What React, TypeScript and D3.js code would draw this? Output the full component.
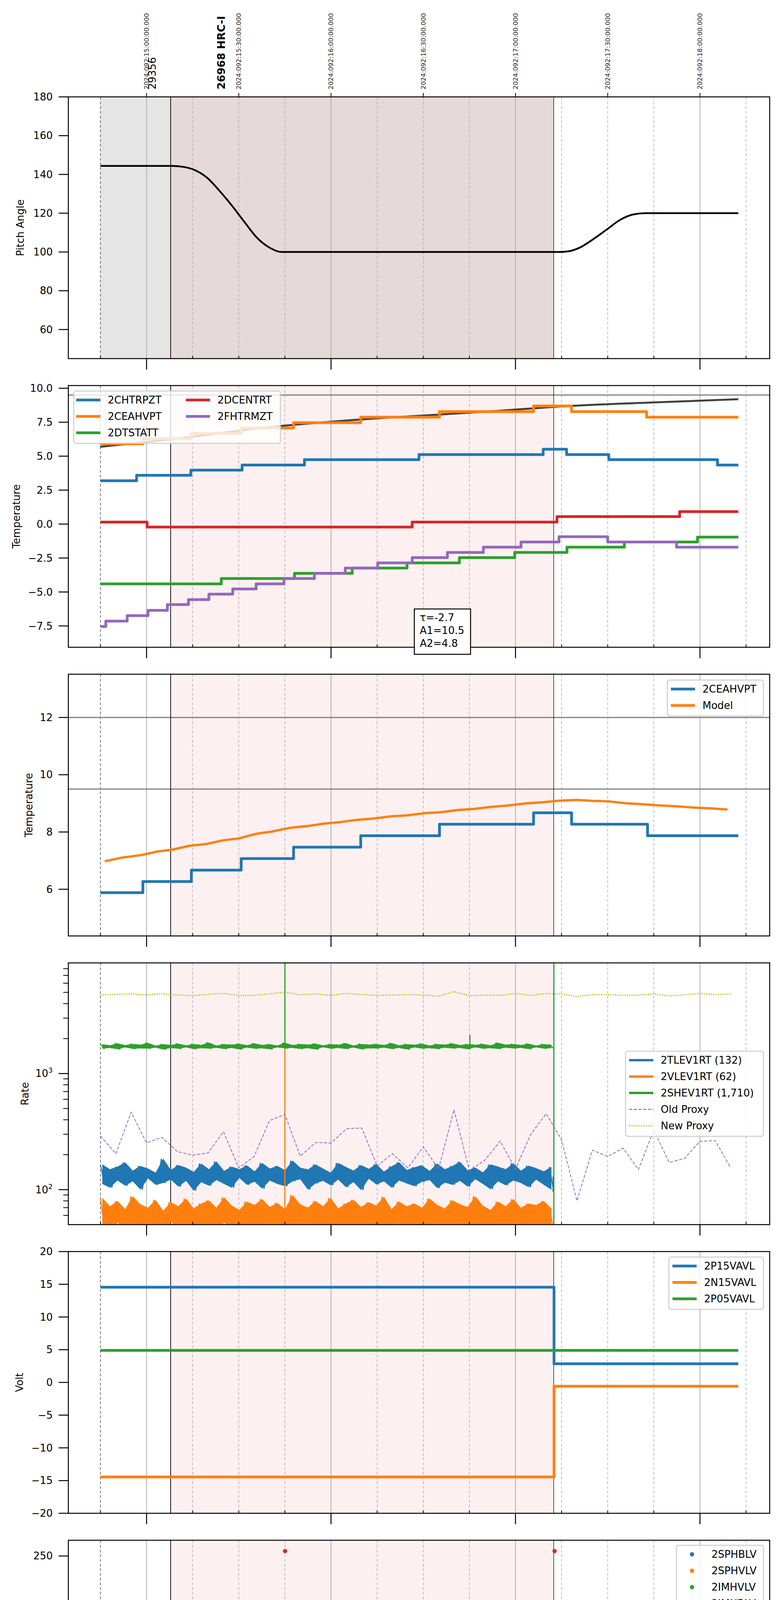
import React from "react";
import * as d3 from "d3";

type Pt = [number, number];
type Seg = [number, number, number];

// ---------- time axis: local hours on 2024-04-01 (day 092) ----------
const T_RANGE: Pt = [10.576, 14.378];
const HOUR_TICKS = [11, 12, 13, 14];
const HOUR_LABELS = ["11h", "12h", "13h", "14h"];
const QUARTER_TICKS = [10.75, 11.25, 11.5, 11.75, 12.25, 12.5, 12.75, 13.25, 13.5, 13.75, 14.25];
const QUARTER_LABELS = ["45", "15", "30", "45", "15", "30", "45", "15", "30", "45", "15"];
const UTC_TICKS = [11, 11.5, 12, 12.5, 13, 13.5, 14];
const UTC_LABELS = [
  "2024:092:15:00:00.000",
  "2024:092:15:30:00.000",
  "2024:092:16:00:00.000",
  "2024:092:16:30:00.000",
  "2024:092:17:00:00.000",
  "2024:092:17:30:00.000",
  "2024:092:18:00:00.000",
];
const X_LABEL = "2024-04-01 (092)";

// observations
const PREV_OBS_START = 10.75;
const OBS_START = 11.1306;
const OBS_END = 13.2072;
const OBS_NAMES = ["29356", "26968 HRC-I"];
const OBS_NAME_T = [11.03, 11.405];

// ---------- panel 1: pitch ----------
const PITCH_TICKS = [60, 80, 100, 120, 140, 160, 180];
const PITCH: Pt[] = [
  [10.75, 144.4], [11.138, 144.4], [11.205, 143.8], [11.267, 142.0], [11.327, 138.4],
  [11.394, 131.7], [11.462, 124.0], [11.529, 115.7], [11.597, 107.5], [11.664, 102.4],
  [11.732, 100.0], [13.236, 100.0], [13.285, 100.3], [13.352, 102.4], [13.42, 106.5],
  [13.498, 111.8], [13.568, 116.6], [13.636, 119.3], [13.703, 120.0], [14.208, 120.0],
];

// ---------- panel 2: temperatures ----------
const TEMP_TICKS = [-7.5, -5, -2.5, 0, 2.5, 5, 7.5, 10];
const T_2CHTRPZT: Pt[] = [
  [10.75, 3.19], [10.946, 3.59], [11.24, 3.97], [11.518, 4.35], [11.856, 4.74], [12.477, 5.12],
  [13.15, 5.51], [13.277, 5.12], [13.506, 4.74], [14.095, 4.35], [14.208, 4.35],
];
const T_2CEAHVPT: Pt[] = [
  [10.75, 5.91], [10.98, 6.29], [11.243, 6.68], [11.513, 7.07], [11.797, 7.47], [12.161, 7.87],
  [12.588, 8.28], [13.098, 8.7], [13.304, 8.28], [13.711, 7.87], [14.208, 7.87],
];
const T_2DTSTATT: Pt[] = [
  [10.75, -4.4], [11.405, -4.01], [11.802, -3.63], [12.115, -3.24], [12.412, -2.86], [12.696, -2.47],
  [12.996, -2.09], [13.279, -1.7], [13.59, -1.32], [13.987, -0.96], [14.208, -0.96],
];
const T_2DCENTRT: Pt[] = [
  [10.75, 0.15], [11.003, -0.22], [12.44, 0.15], [13.225, 0.55], [13.89, 0.92], [14.208, 0.92],
];
const T_2FHTRMZT: Pt[] = [
  [10.75, -7.54], [10.779, -7.14], [10.895, -6.74], [11.008, -6.35], [11.113, -5.93], [11.227, -5.56],
  [11.338, -5.16], [11.467, -4.78], [11.594, -4.4], [11.745, -4.01], [11.91, -3.63], [12.077, -3.24],
  [12.253, -2.86], [12.44, -2.47], [12.631, -2.09], [12.826, -1.7], [13.03, -1.32], [13.236, -0.93],
  [13.5, -1.32], [13.873, -1.7], [14.208, -1.7],
];
const TEMP_FIT: Pt[] = [
  [10.749, 5.69], [11.132, 6.24], [11.664, 7.13], [12.231, 7.77], [12.582, 8.06],
  [12.907, 8.34], [13.312, 8.71], [13.717, 8.94], [14.208, 9.19],
];
const FIT_TEXT = ["τ=-2.7", "A1=10.5", "A2=4.8"];
const TEMP_LIMITS = [9.5];

// ---------- panel 3: 2CEAHVPT vs model ----------
const MODEL_TICKS = [6, 8, 10, 12];
const M_2CEAHVPT: Pt[] = [
  [10.75, 5.88], [10.98, 6.27], [11.243, 6.67], [11.513, 7.07], [11.797, 7.47], [12.161, 7.87],
  [12.588, 8.27], [13.098, 8.67], [13.304, 8.27], [13.716, 7.87], [14.208, 7.87],
];
const M_MODEL: Pt[] = [
  [10.773, 6.977], [10.868, 7.107], [10.97, 7.192], [11.057, 7.316], [11.138, 7.381], [11.232, 7.518],
  [11.327, 7.583], [11.413, 7.707], [11.502, 7.779], [11.597, 7.941], [11.683, 8.02], [11.78, 8.15],
  [11.872, 8.208], [11.961, 8.293], [12.05, 8.345], [12.137, 8.423], [12.231, 8.469], [12.326, 8.547],
  [12.42, 8.586], [12.507, 8.658], [12.596, 8.691], [12.691, 8.769], [12.777, 8.808], [12.871, 8.879],
  [12.961, 8.925], [13.055, 8.997], [13.144, 9.036], [13.236, 9.094], [13.331, 9.121], [13.42, 9.088],
  [13.506, 9.068], [13.601, 9.003], [13.69, 8.971], [13.784, 8.925], [13.871, 8.899], [13.965, 8.853],
  [14.054, 8.827], [14.149, 8.782],
];
const MODEL_LIMITS = [9.5, 12];

// ---------- panel 4: rates (log) ----------
const RATE_TICKS = [100, 1000];
const RATE_MINOR = [60, 70, 80, 90, 200, 300, 400, 500, 600, 700, 800, 900, 2000, 3000, 4000, 5000, 6000, 7000, 8000];
const RATE_T0 = 10.75;
const RATE_T1 = 13.205;
const R_2TLEV1RT = [
  165, 112, 150, 104, 158, 120, 172, 108, 146, 118, 160, 100, 152, 125, 140, 110, 185, 114, 148, 122,
  163, 106, 155, 119, 142, 98, 168, 116, 150, 108, 175, 121, 145, 112, 158, 104, 150, 126, 162, 110,
  144, 117, 170, 102, 152, 120, 160, 112, 147, 107, 178, 118, 155, 123, 149, 100, 165, 113, 152, 119,
  140, 109, 170, 122, 157, 105, 146, 116, 163, 99, 151, 124, 166, 111, 143, 118, 159, 104, 172, 120,
  148, 113, 156, 107, 162, 117, 145, 121, 168, 103, 150, 115, 160, 110, 174, 119, 147, 106, 155, 123,
  141, 112, 165, 101, 158, 118, 150, 109, 169, 120, 146, 114, 161, 105, 153, 122, 144, 110, 157, 100,
];
const R_2VLEV1RT = [
  85, 46, 72, 40, 80, 52, 68, 44, 88, 50, 75, 42, 70, 48, 82, 45, 66, 41, 78, 53,
  72, 46, 84, 44, 69, 50, 76, 40, 81, 47, 70, 43, 86, 52, 73, 45, 67, 41, 79, 49,
  74, 44, 83, 46, 71, 42, 77, 51, 68, 45, 90, 43, 75, 48, 70, 41, 80, 47, 72, 44,
  85, 50, 69, 42, 76, 46, 82, 43, 71, 49, 78, 40, 73, 45, 87, 47, 68, 44, 79, 51,
  72, 42, 76, 46, 70, 43, 84, 48, 74, 45, 69, 41, 81, 50, 75, 44, 71, 47, 88, 42,
  73, 46, 67, 43, 79, 49, 72, 45, 83, 41, 70, 48, 76, 44, 74, 46, 80, 43, 69, 47,
];
const R_2SHEV1RT = [
  1790, 1640, 1750, 1660, 1820, 1620, 1760, 1680, 1800, 1630, 1770, 1650, 1840, 1640, 1740, 1670, 1790, 1610, 1760, 1660,
  1810, 1635, 1750, 1680, 1795, 1625, 1765, 1655, 1850, 1640, 1745, 1665, 1790, 1630, 1775, 1660, 1805, 1615, 1755, 1675,
  1820, 1640, 1765, 1650, 1790, 1620, 1745, 1680, 1840, 1645, 1760, 1660, 1795, 1630, 1775, 1655, 1810, 1615, 1750, 1685,
  1790, 1640, 1770, 1660, 1825, 1630, 1745, 1675, 1800, 1620, 1775, 1650, 1795, 1645, 1760, 1670, 1830, 1630, 1750, 1660,
  1790, 1615, 1770, 1680, 1810, 1640, 1745, 1655, 1795, 1630, 1775, 1670, 1820, 1645, 1760, 1660, 1790, 1620, 1770, 1680,
  1800, 1640, 1750, 1655, 1840, 1630, 1775, 1670, 1795, 1645, 1760, 1660, 1810, 1625, 1745, 1680, 1790, 1640, 1770, 1655,
];
// vertical excursions: [time, from, to]
const R_2TLEV1RT_SPIKES: Seg[] = [[13.204, 130, 96]];
const R_2VLEV1RT_SPIKES: Seg[] = [[11.75, 40, 1700]];
const R_2SHEV1RT_SPIKES: Seg[] = [[11.75, 1710, 1e6], [12.753, 1710, 2150], [13.208, 1, 1e6]];
const PROXY_T0 = 10.75;
const PROXY_DT = 5 / 60;
const OLD_PROXY = [
  290, 204, 464, 253, 282, 213, 198, 207, 316, 154, 193, 394, 444, 194, 255, 252, 334, 340, 160, 204, 154,
  234, 151, 487, 146, 179, 262, 151, 301, 452, 269, 80, 219, 193, 228, 149, 326, 171, 186, 261, 264, 154,
];
const NEW_PROXY = [
  4764, 4817, 4853, 4747, 4871, 4747, 4677, 4817, 4908, 4693, 4711, 4853, 5035, 4764, 4853, 4711, 4908, 4781, 4711, 4747, 4781,
  4747, 4624, 5075, 4693, 4728, 4711, 4908, 4711, 4890, 4836, 4605, 4781, 4781, 4728, 4728, 4853, 4660, 4764, 4890, 4781, 4836,
];

// ---------- panel 5: voltages ----------
const VOLT_TICKS = [-20, -15, -10, -5, 0, 5, 10, 15, 20];
const V_2P15VAVL: Pt[] = [[10.75, 14.55], [13.209, 2.85], [14.208, 2.85]];
const V_2N15VAVL: Pt[] = [[10.75, -14.45], [13.209, -0.58], [14.208, -0.58]];
const V_2P05VAVL: Pt[] = [[10.75, 4.9], [14.208, 4.9]];

// ---------- panel 6: HV monitors (scatter) ----------
const HV_TICKS = [0, 50, 100, 150, 200, 250];
const HV_T0 = 10.75;
const HV_T1 = 13.205;
const HV_2IMHBLV = [
  86, 85.6, 86.3, 85.8, 86.1, 85.7, 86.4, 85.9, 86.2, 85.6, 86, 86.3, 85.7, 86.1, 85.8, 86.4, 85.6, 86.2, 85.9, 86,
  86.3, 85.7, 86.1, 85.8, 86.2, 85.6, 86.4, 85.9, 86, 86.3, 85.7, 86.1, 85.8, 86.2, 85.6, 86.4, 85.9, 86, 86.3, 85.7,
  86.1, 85.8, 86.2, 85.6, 86.4, 85.9, 86, 86.3, 85.7, 86.1, 85.8, 86.2, 85.6, 86.4, 85.9, 86, 86.3, 85.7, 86.1, 85.8,
  86.2, 85.6, 86.4, 85.9, 86, 86.3, 85.7, 86.1, 85.8, 86.2, 85.6, 86.4, 85.9, 86, 86.3, 85.7, 86.1, 85.8, 86.2, 85.6,
  86.4, 85.9, 86, 86.3, 85.7, 86.1, 85.8, 86.2, 85.6, 86.4, 85.9, 86, 86.3, 85.7, 86.1, 85.8, 86.2, 85.6, 86.4, 85.9,
  86, 86.3, 85.7, 86.1, 85.8, 86.2, 85.6, 86.4, 85.9, 86, 86.2, 85.8, 86.1, 85.7, 86.3, 85.9, 86, 86.4, 85.6, 86.1,
  85.8, 86.2, 86, 85.7, 86.3, 85.9, 86.1, 85.6, 86.4, 85.8, 86, 86.2, 85.7, 86.3, 85.9, 86.1, 85.6, 86.4, 85.8, 86,
  86.2, 85.7, 86.1, 85.9, 86.3, 85.6, 86, 86.4, 85.8, 86.1, 85.7, 86.2, 85.9, 86.3, 85.6, 86, 86.1, 85.8, 86.2, 86,
];
const HV_2IMHVLV = [
  79.5, 80.8, 78.9, 80.2, 79.2, 81, 79.8, 78.8, 80.5, 79.3, 80.9, 79, 80.3, 79.6, 78.9, 81.1, 79.4, 80.6, 79.1, 80,
  80.7, 78.8, 79.9, 81, 79.2, 80.4, 79.5, 78.9, 80.8, 79.7, 80.1, 79, 81, 79.4, 80.5, 78.8, 79.9, 80.6, 79.2, 80.9,
  79.6, 80.2, 78.9, 81.1, 79.3, 80, 79.7, 80.8, 79, 80.4, 79.5, 81, 78.9, 80.1, 79.8, 80.6, 79.2, 80.9, 79.4, 80.3,
  78.8, 80.7, 79.6, 81, 79.1, 80.2, 79.9, 80.5, 79.3, 80.8, 79, 80.4, 79.7, 81.1, 78.9, 80, 79.5, 80.6, 79.2, 80.9,
  79.8, 80.3, 79, 80.7, 79.4, 81, 79.6, 80.1, 78.8, 80.5, 79.3, 80.8, 79.9, 80.2, 79.1, 80.6, 79.7, 81, 79.4, 80.4,
  79, 80.7, 79.5, 80.1, 79.8, 80.9, 79.2, 80.3, 79.6, 80, 80.6, 79.1, 80.9, 79.4, 80.2, 78.9, 81, 79.7, 80.4, 79.2,
  80.8, 79.5, 80, 79.1, 81.1, 79.6, 80.3, 78.8, 80.7, 79.9, 80.5, 79.3, 80.9, 79, 80.2, 79.7, 81, 79.4, 80.6, 79.2,
  80.1, 79.8, 80.8, 79, 80.4, 79.5, 81.1, 79.3, 80.6, 78.9, 80.3, 79.6, 80.9, 79.2, 80.5, 79.8, 80.1, 79.4, 80.7, 79.6,
];
const HV_2IMHVLV_EXTRA: Pt[] = [
  [11.856, 127], [11.94, 127], [11.948, 127], [11.98, 127], [12.672, 127], [12.72, 127], [12.78, 127], [12.788, 127],
];
const HV_2IMHBLV_EXTRA: Pt[] = [
  [11.751, 255], [13.212, 255], [11.856, 79], [11.94, 79], [11.948, 79.5], [11.98, 79], [12.034, 81],
  [12.672, 79], [12.72, 79], [12.78, 80], [12.788, 79],
];

// ---------- panel 7 & 8: spiky stepped temperatures ----------
const ZONE_A = [11.856, 11.888, 11.902, 11.918, 11.94, 11.964, 11.98, 11.991, 12.015, 12.034, 12.056, 12.077, 12.094, 12.115];
const ZONE_B = [12.51, 12.574, 12.591, 12.618, 12.663, 12.672, 12.72, 12.78, 12.79];

const DET_TICKS = [0, 2.5, 5, 7.5, 10, 12.5, 15, 17.5];
const D_2SPINATM: Pt[] = [[10.75, 1.72], [12.15, 2.21], [13.2, 2.21]];
const D_2SPINATM_A = -5;
const D_2SPINATM_B = -5;
const D_2SPHVATM: Pt[] = [
  [10.75, 13.29], [10.85, 13.66], [11.259, 13.98], [11.562, 14.31], [11.835, 14.64], [12.129, 14.98],
  [12.426, 15.32], [12.761, 15.67], [13.16, 16.01], [13.2, 16.01],
];
const D_2SPHVATM_A = 9.0;
const D_2SPHVATM_B = 9.3;
const D_2SPHVATM_EXTRA: Pt[] = [[11.983, 1.8], [12.722, 0.0], [12.947, 15.28]];
const D_2IMINATM: Pt[] = [[10.75, -0.56], [11.743, -0.07], [12.847, 0.34], [13.2, 0.34]];
const D_2IMINATM_A = 1.77;
const D_2IMINATM_B = 2.28;
const D_2IMINATM_EXTRA: Pt[] = [[11.808, -0.59]];
const D_2IMHVATM: Pt[] = [
  [10.75, 13.29], [10.833, 13.64], [10.94, 13.98], [11.054, 14.32], [11.184, 14.66], [11.324, 15.0],
  [11.486, 15.34], [11.656, 15.67], [11.84, 16.01], [12.03, 16.35], [12.272, 16.69], [12.534, 17.03],
  [12.853, 17.37], [13.204, 17.37], [13.21, 25], [13.213, -5],
];
const D_2IMHVATM_A = 14.6;
const D_2IMHVATM_B = 15.3;
const D_2IMHVATM_EXTRA: Pt[] = [[11.745, -5]];

const FEA_TICKS = [-7, -6, -5, -4, -3, -2, -1, 0];
const F_2FHTRMZT: Pt[] = [
  [10.75, -7.58], [10.781, -7.18], [10.897, -6.78], [11.008, -6.38], [11.116, -5.98], [11.227, -5.59],
  [11.338, -5.2], [11.467, -4.8], [11.594, -4.42], [11.751, -4.04], [11.91, -3.66], [12.077, -3.28],
  [12.258, -2.88], [12.442, -2.51], [12.631, -2.13], [12.826, -1.75], [13.031, -1.38], [13.239, -0.99],
  [13.506, -1.38], [13.879, -1.75], [14.208, -1.75],
];
const F_2FRADPYT: Pt[] = [
  [10.75, -8.3], [10.94, -7.58], [11.054, -7.18], [11.154, -6.78], [11.313, -6.38], [11.716, -5.98],
  [11.983, -5.59], [12.253, -5.2], [12.488, -4.81], [12.712, -4.42], [12.942, -4.04], [13.177, -3.66],
  [13.636, -4.04], [13.973, -4.43], [14.208, -4.43],
];
const F_2FEPRATM: Pt[] = [
  [10.75, -6.45], [10.787, -6.03], [10.868, -5.63], [10.954, -5.22], [11.051, -4.78], [11.151, -4.37],
  [11.257, -3.96], [11.373, -3.54], [11.494, -3.12], [11.629, -2.7], [11.775, -2.27], [11.934, -1.84],
  [12.129, -1.41], [12.299, -0.98], [12.496, -0.54], [12.731, -0.09], [12.925, 0.36], [13.168, 0.8],
  [13.197, 0.8], [13.2, -10],
];
const F_2FEPRATM_A = -6.05;
const F_2FEPRATM_B = -6.05;
const F_2FEPRATM_EXTRA: Pt[] = [[11.748, -6.05], [11.985, -10]];
const F_2FE00ATM: Pt[] = [
  [10.75, -8.3], [10.833, -7.83], [10.914, -7.45], [10.995, -7.12], [11.076, -6.75], [11.157, -6.42],
  [11.24, -6.05], [11.332, -5.71], [11.432, -5.36], [11.537, -5.01], [11.651, -4.67], [11.775, -4.32],
  [11.907, -3.98], [12.05, -3.63], [12.164, -3.3], [12.312, -2.95], [12.461, -2.62], [12.623, -2.28],
  [12.772, -1.96], [12.934, -1.61], [13.09, -1.27], [13.204, -1.27], [13.21, 5], [13.213, -10],
];
const F_2FE00ATM_A = 5;
const F_2FE00ATM_B = 5;
const F_2FE00ATM_EXTRA: Pt[] = [
  [10.997, -9], [11.744, 5], [11.746, -10], [11.985, -10], [12.023, -5.05], [12.07, -4.35],
  [12.231, -2.9], [12.56, -2.98], [12.724, -10], [13.04, -1.24],
];

// ---------- colours ----------
const C = {
  blue: "#1f77b4",
  orange: "#ff7f0e",
  green: "#2ca02c",
  red: "#d62728",
  purple: "#9467bd",
  olive: "#bcbd22",
};

// ---------- layout ----------
const W = 2000;
const H = 6200;
const X0 = 175;
const X1 = 1971;
const TOP0 = 248;
const STEP = 739;
const PH = 670;
const FONT = "DejaVu Sans";
const top = (i: number) => TOP0 + i * STEP;
const yRange = (i: number): Pt => [top(i) + PH, top(i)];

const x = d3.scaleLinear().domain(T_RANGE).range([X0, X1]);
const yPitch = d3.scaleLinear().domain([45, 180]).range(yRange(0));
const yTemp = d3.scaleLinear().domain([-9.07, 10.2]).range(yRange(1));
const yModel = d3.scaleLinear().domain([4.37, 13.51]).range(yRange(2));
const yRate = d3.scaleLog().domain([50, 8974]).range(yRange(3));
const yVolt = d3.scaleLinear().domain([-20, 20]).range(yRange(4));
const yHV = d3.scaleLinear().domain([0, 266]).range(yRange(5));
const yDet = d3.scaleLinear().domain([-2.06, 18.56]).range(yRange(6));
const yFea = d3.scaleLinear().domain([-7.88, 0.956]).range(yRange(7));

const fmt1 = d3.format(".1f");
const fmtD = d3.format("d");

// ---------- helpers ----------
const sampled = (vals: number[], t0: number, t1: number): Pt[] =>
  vals.map((v, i) => [t0 + (i * (t1 - t0)) / (vals.length - 1), v]);

const byTime = (pts: Pt[]) => [...pts].sort((a, b) => a[0] - b[0]);

const baseAt = (steps: Pt[], t: number) => {
  let v = steps[0][1];
  for (const s of steps) if (s[0] <= t) v = s[1];
  return v;
};

// short excursions on top of a stepped series
const withPulses = (steps: Pt[], pulses: Pt[], w = 0.004): Pt[] => {
  const pts: Pt[] = [...steps];
  pulses.forEach(([t, v]) => {
    pts.push([t, v]);
    pts.push([t + w, baseAt(steps, t + w)]);
  });
  return byTime(pts);
};

const at = (times: number[], v: number): Pt[] => times.map((t) => [t, v]);

// pair successive noisy samples into a low/high envelope
const envelope = (pts: Pt[]) => {
  const out: { t: number; lo: number; hi: number }[] = [];
  for (let k = 0; k + 1 < pts.length; k += 2) {
    out.push({
      t: (pts[k][0] + pts[k + 1][0]) / 2,
      lo: Math.min(pts[k][1], pts[k + 1][1]),
      hi: Math.max(pts[k][1], pts[k + 1][1]),
    });
  }
  return out;
};

type YS = (v: number) => number;
const stepPath = (y: YS, pts: Pt[]) =>
  d3.line<Pt>().x((d) => x(d[0])).y((d) => y(d[1])).curve(d3.curveStepAfter)(pts) ?? "";
const linePath = (y: YS, pts: Pt[], curve: d3.CurveFactory = d3.curveLinear) =>
  d3.line<Pt>().x((d) => x(d[0])).y((d) => y(d[1])).curve(curve)(pts) ?? "";
const bandPath = (y: YS, pts: Pt[]) =>
  d3.area<{ t: number; lo: number; hi: number }>()
    .x((d) => x(d.t))
    .y0((d) => y(d.lo))
    .y1((d) => y(d.hi))(envelope(pts)) ?? "";

// ---------- components ----------
type Item = { label: string; color: string; kind?: "line" | "dash" | "dot" | "marker"; lw?: number };

function Legend({ x0, y0, w, rows, columns, colOffsets }: {
  x0: number; y0: number; w: number; rows: number; columns: Item[][]; colOffsets: number[];
}) {
  const h = rows * 42 + 8;
  return (
    <g>
      <rect x={x0} y={y0} width={w} height={h} rx={6} fill="white" fillOpacity={0.8} stroke="#cccccc" strokeWidth={2.5} />
      {columns.map((col, ci) =>
        col.map((it, ri) => {
          const cy = y0 + 23 + ri * 42;
          const hx = x0 + colOffsets[ci];
          const kind = it.kind ?? "line";
          return (
            <g key={`${ci}-${ri}`}>
              {kind === "marker" ? (
                <circle cx={hx + 31} cy={cy} r={5.5} fill={it.color} />
              ) : (
                <line
                  x1={hx} x2={hx + 62} y1={cy} y2={cy}
                  stroke={it.color}
                  strokeWidth={it.lw ?? 7}
                  strokeDasharray={kind === "dash" ? "8,4" : kind === "dot" ? "3,3" : undefined}
                />
              )}
              <text x={hx + 81} y={cy} dy="0.35em" fontSize={26} fontFamily={FONT}>{it.label}</text>
            </g>
          );
        })
      )}
    </g>
  );
}

function Frame({ i, y, ticks, fmt, ylabel, labelX, first = false, hlines = [], minor = [], logLabels = false, children }: {
  i: number; y: YS; ticks: number[]; fmt: (v: number) => string; ylabel: string; labelX: number;
  first?: boolean; hlines?: number[]; minor?: number[]; logLabels?: boolean; children?: React.ReactNode;
}) {
  const t = top(i);
  const b = t + PH;
  const spanW = (a: number, c: number) => x(c) - x(a);
  return (
    <g>
      <defs>
        <clipPath id={`clip${i}`}>
          <rect x={X0} y={t} width={X1 - X0} height={PH} />
        </clipPath>
      </defs>
      {first ? (
        <>
          <rect x={x(PREV_OBS_START)} y={t} width={spanW(PREV_OBS_START, OBS_START)} height={PH} fill="#e5e5e5" />
          <rect x={x(OBS_START)} y={t} width={spanW(OBS_START, OBS_END)} height={PH} fill="#e5d9d9" />
        </>
      ) : (
        <rect x={x(OBS_START)} y={t} width={spanW(OBS_START, OBS_END)} height={PH} fill="#fdf0f0" />
      )}
      {HOUR_TICKS.map((h) => (
        <line key={`h${h}`} x1={x(h)} x2={x(h)} y1={t} y2={b} stroke="#b0b0b0" strokeWidth={2} />
      ))}
      {QUARTER_TICKS.map((q) => (
        <line key={`q${q}`} x1={x(q)} x2={x(q)} y1={t} y2={b}
          stroke={q === PREV_OBS_START ? "#555555" : "#b0b0b0"} strokeWidth={1.6} strokeDasharray="7,5" />
      ))}
      {hlines.map((v) => (
        <line key={`l${v}`} x1={X0} x2={X1} y1={y(v)} y2={y(v)} stroke="#808080" strokeWidth={3} />
      ))}
      <line x1={x(OBS_START)} x2={x(OBS_START)} y1={t} y2={b} stroke="black" strokeWidth={1.8} />
      <line x1={x(OBS_END)} x2={x(OBS_END)} y1={t} y2={b} stroke="black" strokeWidth={1.3} />
      <g clipPath={`url(#clip${i})`}>{children}</g>
      <rect x={X0} y={t} width={X1 - X0} height={PH} fill="none" stroke="black" strokeWidth={2.5} />
      {ticks.map((v) => (
        <g key={`yt${v}`}>
          <line x1={X0 - 25} x2={X0} y1={y(v)} y2={y(v)} stroke="black" strokeWidth={2.5} />
          {logLabels ? (
            <text x={135} y={y(v)} dy="0.35em" textAnchor="end" fontSize={26} fontFamily={FONT}>
              10<tspan dy={-11} fontSize={18}>{Math.round(Math.log10(v))}</tspan>
            </text>
          ) : (
            <text x={135} y={y(v)} dy="0.35em" textAnchor="end" fontSize={26} fontFamily={FONT}>{fmt(v)}</text>
          )}
        </g>
      ))}
      {minor.map((v) => (
        <line key={`ym${v}`} x1={X0 - 13} x2={X0} y1={y(v)} y2={y(v)} stroke="black" strokeWidth={2} />
      ))}
      {HOUR_TICKS.map((h) => (
        <line key={`bt${h}`} x1={x(h)} x2={x(h)} y1={b} y2={b + 28} stroke="black" strokeWidth={2.5} />
      ))}
      {QUARTER_TICKS.map((q) => (
        <line key={`bm${q}`} x1={x(q)} x2={x(q)} y1={b - 7} y2={b} stroke="black" strokeWidth={2} />
      ))}
      <text
        transform={`translate(${labelX},${t + PH / 2}) rotate(-90)`}
        dy="0.35em" textAnchor="middle" fontSize={26} fontFamily={FONT}
      >
        {ylabel}
      </text>
    </g>
  );
}

export default function App() {
  // panel 4 series
  const rBlue = sampled(R_2TLEV1RT, RATE_T0, RATE_T1);
  const rOrange = sampled(R_2VLEV1RT, RATE_T0, RATE_T1);
  const rGreen = sampled(R_2SHEV1RT, RATE_T0, RATE_T1);
  const oldProxy = sampled(OLD_PROXY, PROXY_T0, PROXY_T0 + PROXY_DT * (OLD_PROXY.length - 1));
  const newProxy = sampled(NEW_PROXY, PROXY_T0, PROXY_T0 + PROXY_DT * (NEW_PROXY.length - 1));
  const rateSeries = [
    { pts: rBlue, spikes: R_2TLEV1RT_SPIKES, c: C.blue },
    { pts: rOrange, spikes: R_2VLEV1RT_SPIKES, c: C.orange },
    { pts: rGreen, spikes: R_2SHEV1RT_SPIKES, c: C.green },
  ];

  // panel 6 scatter
  const hvGreen = sampled(HV_2IMHVLV, HV_T0, HV_T1);
  const hvRed = sampled(HV_2IMHBLV, HV_T0, HV_T1);

  // panel 7
  const d7 = [
    { pts: withPulses(D_2SPINATM, [...at(ZONE_A, D_2SPINATM_A), ...at(ZONE_B, D_2SPINATM_B)]), c: C.blue },
    { pts: withPulses(D_2SPHVATM, [...at(ZONE_A, D_2SPHVATM_A), ...at(ZONE_B, D_2SPHVATM_B), ...D_2SPHVATM_EXTRA]), c: C.orange },
    { pts: withPulses(D_2IMINATM, [...at(ZONE_A, D_2IMINATM_A), ...at(ZONE_B, D_2IMINATM_B), ...D_2IMINATM_EXTRA]), c: C.green },
    { pts: withPulses(D_2IMHVATM, [...at(ZONE_A, D_2IMHVATM_A), ...at(ZONE_B, D_2IMHVATM_B), ...D_2IMHVATM_EXTRA]), c: C.red },
  ];
  // panel 8
  const d8 = [
    { pts: F_2FHTRMZT, c: C.blue },
    { pts: F_2FRADPYT, c: C.orange },
    { pts: withPulses(F_2FEPRATM, [...at(ZONE_A, F_2FEPRATM_A), ...at(ZONE_B, F_2FEPRATM_B), ...F_2FEPRATM_EXTRA]), c: C.green },
    { pts: withPulses(F_2FE00ATM, [...at(ZONE_A, F_2FE00ATM_A), ...at(ZONE_B, F_2FE00ATM_B), ...F_2FE00ATM_EXTRA]), c: C.red },
  ];

  const thick = { fill: "none", strokeWidth: 7, strokeLinejoin: "round" as const };
  const lastBottom = top(7) + PH;
  const t0 = top(0);

  return (
    <svg width={W} height={H} viewBox={`0 0 ${W} ${H}`} style={{ position: "absolute", left: 0, top: 0, display: "block" }}>
      <rect width={W} height={H} fill="white" />

      {/* top: UTC ticks and observation names */}
      {UTC_TICKS.map((h, k) => (
        <g key={`utc${h}`}>
          <line x1={x(h)} x2={x(h)} y1={t0 - 10} y2={t0} stroke="black" strokeWidth={2} />
          <text transform={`translate(${x(h)},${t0 - 19}) rotate(-90)`} dy="0.35em" fontSize={16.5} fontFamily={FONT} fill="#222">
            {UTC_LABELS[k]}
          </text>
        </g>
      ))}
      {OBS_NAMES.map((n, k) => (
        <text key={n} transform={`translate(${x(OBS_NAME_T[k])},229) rotate(-90)`} dy="0.35em"
          fontSize={k === 1 ? 27 : 26} fontWeight={k === 1 ? "bold" : "normal"} fontFamily={FONT}>
          {n}
        </text>
      ))}

      {/* 1: pitch */}
      <Frame i={0} y={yPitch} ticks={PITCH_TICKS} fmt={fmtD} ylabel="Pitch Angle" labelX={52} first>
        <path d={linePath(yPitch, PITCH, d3.curveMonotoneX)} fill="none" stroke="black" strokeWidth={4.5} />
      </Frame>

      {/* 2: temperatures */}
      <Frame i={1} y={yTemp} ticks={TEMP_TICKS} fmt={fmt1} ylabel="Temperature" labelX={42} hlines={TEMP_LIMITS}>
        <path d={linePath(yTemp, TEMP_FIT, d3.curveMonotoneX)} fill="none" stroke="#404040" strokeWidth={5} />
        <path d={stepPath(yTemp, T_2CHTRPZT)} stroke={C.blue} {...thick} />
        <path d={stepPath(yTemp, T_2CEAHVPT)} stroke={C.orange} {...thick} />
        <path d={stepPath(yTemp, T_2DTSTATT)} stroke={C.green} {...thick} />
        <path d={stepPath(yTemp, T_2DCENTRT)} stroke={C.red} {...thick} />
        <path d={stepPath(yTemp, T_2FHTRMZT)} stroke={C.purple} {...thick} />
      </Frame>
      <Legend x0={189} y0={1001} w={529} rows={3} colOffsets={[6, 287]}
        columns={[
          [{ label: "2CHTRPZT", color: C.blue }, { label: "2CEAHVPT", color: C.orange }, { label: "2DTSTATT", color: C.green }],
          [{ label: "2DCENTRT", color: C.red }, { label: "2FHTRMZT", color: C.purple }],
        ]} />
      <g>
        <rect x={1061} y={1559} width={144} height={116} fill="white" stroke="black" strokeWidth={2.5} />
        {FIT_TEXT.map((s, k) => (
          <text key={s} x={1075} y={1590 + k * 33} fontSize={26} fontFamily={FONT}>{s}</text>
        ))}
      </g>

      {/* 3: model */}
      <Frame i={2} y={yModel} ticks={MODEL_TICKS} fmt={fmtD} ylabel="Temperature" labelX={74} hlines={MODEL_LIMITS}>
        <path d={stepPath(yModel, M_2CEAHVPT)} stroke={C.blue} {...thick} />
        <path d={linePath(yModel, M_MODEL)} fill="none" stroke={C.orange} strokeWidth={6} strokeLinejoin="round" />
      </Frame>
      <Legend x0={1709} y0={1741} w={246} rows={2} colOffsets={[9]}
        columns={[[{ label: "2CEAHVPT", color: C.blue }, { label: "Model", color: C.orange }]]} />

      {/* 4: rates */}
      <Frame i={3} y={yRate} ticks={RATE_TICKS} fmt={fmtD} ylabel="Rate" labelX={64} minor={RATE_MINOR} logLabels>
        {rateSeries.map((s, k) => (
          <g key={k}>
            <path d={bandPath(yRate, s.pts)} fill={s.c} />
            <path d={linePath(yRate, s.pts)} fill="none" stroke={s.c} strokeWidth={2.5} />
            {s.spikes.map((sp, j) => (
              <line key={j} x1={x(sp[0])} x2={x(sp[0])} y1={yRate(sp[1])} y2={yRate(sp[2])} stroke={s.c} strokeWidth={3} />
            ))}
          </g>
        ))}
        <path d={linePath(yRate, oldProxy)} fill="none" stroke={C.purple} strokeWidth={2} strokeDasharray="8,4" />
        <path d={linePath(yRate, newProxy)} fill="none" stroke={C.olive} strokeWidth={3} strokeDasharray="3,3" />
      </Frame>
      <Legend x0={1602} y0={2691} w={353} rows={5} colOffsets={[9]}
        columns={[[
          { label: "2TLEV1RT (132)", color: C.blue, lw: 6 },
          { label: "2VLEV1RT (62)", color: C.orange, lw: 6 },
          { label: "2SHEV1RT (1,710)", color: C.green, lw: 6 },
          { label: "Old Proxy", color: C.purple, kind: "dash", lw: 2.5 },
          { label: "New Proxy", color: C.olive, kind: "dot", lw: 3 },
        ]]} />

      {/* 5: voltages */}
      <Frame i={4} y={yVolt} ticks={VOLT_TICKS} fmt={fmtD} ylabel="Volt" labelX={50}>
        <path d={stepPath(yVolt, V_2P15VAVL)} stroke={C.blue} {...thick} />
        <path d={stepPath(yVolt, V_2N15VAVL)} stroke={C.orange} {...thick} />
        <path d={stepPath(yVolt, V_2P05VAVL)} stroke={C.green} {...thick} />
      </Frame>
      <Legend x0={1713} y0={3218} w={242} rows={3} colOffsets={[9]}
        columns={[[
          { label: "2P15VAVL", color: C.blue },
          { label: "2N15VAVL", color: C.orange },
          { label: "2P05VAVL", color: C.green },
        ]]} />

      {/* 6: HV monitor */}
      <Frame i={5} y={yHV} ticks={HV_TICKS} fmt={fmtD} ylabel="HV Monitor" labelX={55}>
        {hvGreen.map((d, k) => <circle key={`g${k}`} cx={x(d[0])} cy={yHV(d[1])} r={6} fill={C.green} />)}
        {hvRed.map((d, k) => <circle key={`r${k}`} cx={x(d[0])} cy={yHV(d[1])} r={6} fill={C.red} />)}
        {HV_2IMHVLV_EXTRA.map((d, k) => <circle key={`ge${k}`} cx={x(d[0])} cy={yHV(d[1])} r={5.5} fill={C.green} />)}
        {HV_2IMHBLV_EXTRA.map((d, k) => <circle key={`re${k}`} cx={x(d[0])} cy={yHV(d[1])} r={5.5} fill={C.red} />)}
      </Frame>
      <Legend x0={1732} y0={3956} w={223} rows={4} colOffsets={[9]}
        columns={[[
          { label: "2SPHBLV", color: C.blue, kind: "marker" },
          { label: "2SPHVLV", color: C.orange, kind: "marker" },
          { label: "2IMHVLV", color: C.green, kind: "marker" },
          { label: "2IMHBLV", color: C.red, kind: "marker" },
        ]]} />

      {/* 7: detector temps */}
      <Frame i={6} y={yDet} ticks={DET_TICKS} fmt={fmt1} ylabel="Detector Temp" labelX={46}>
        {d7.map((s, k) => <path key={k} d={stepPath(yDet, s.pts)} stroke={s.c} {...thick} />)}
      </Frame>
      <Legend x0={1709} y0={4695} w={246} rows={4} colOffsets={[9]}
        columns={[[
          { label: "2SPINATM", color: C.blue },
          { label: "2SPHVATM", color: C.orange },
          { label: "2IMINATM", color: C.green },
          { label: "2IMHVATM", color: C.red },
        ]]} />

      {/* 8: FEA temps */}
      <Frame i={7} y={yFea} ticks={FEA_TICKS} fmt={fmtD} ylabel="FEA Temp" labelX={66}>
        {d8.map((s, k) => <path key={k} d={stepPath(yFea, s.pts)} stroke={s.c} {...thick} />)}
      </Frame>
      <Legend x0={1707} y0={5901} w={248} rows={4} colOffsets={[9]}
        columns={[[
          { label: "2FHTRMZT", color: C.blue },
          { label: "2FRADPYT", color: C.orange },
          { label: "2FEPRATM", color: C.green },
          { label: "2FE00ATM", color: C.red },
        ]]} />

      {/* bottom time axis */}
      {QUARTER_TICKS.map((q, k) => (
        <text key={`ql${q}`} x={x(q)} y={lastBottom + 21} textAnchor="middle" fontSize={17} fontFamily={FONT}>
          {QUARTER_LABELS[k]}
        </text>
      ))}
      {HOUR_TICKS.map((h, k) => (
        <text key={`hl${h}`} x={x(h)} y={lastBottom + 59} textAnchor="middle" fontSize={27} fontFamily={FONT}>
          {HOUR_LABELS[k]}
        </text>
      ))}
      <text x={(X0 + X1) / 2} y={lastBottom + 96} textAnchor="middle" fontSize={30} fontFamily={FONT}>
        {X_LABEL}
      </text>
    </svg>
  );
}
